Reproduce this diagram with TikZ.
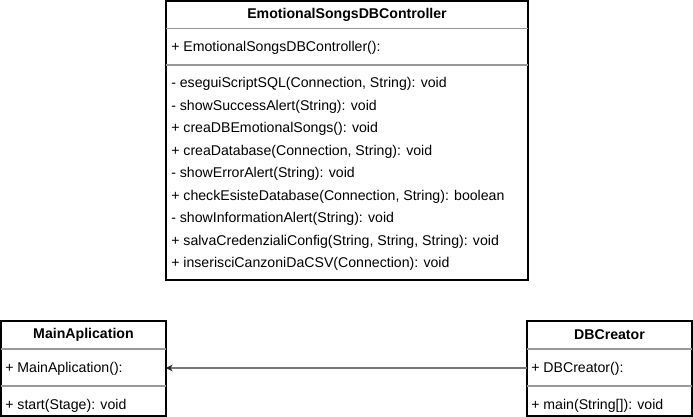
\documentclass[tikz,border=0pt]{standalone}
\usepackage{fontspec}
\setmainfont{Liberation Sans}
\usetikzlibrary{arrows.meta}
\definecolor{divgray}{HTML}{999999}
\definecolor{arrgray}{HTML}{777777}
\begin{document}
\begin{tikzpicture}[x=0.75pt,y=-0.75pt,
  boxline/.style={draw=black,line width=0.85pt},
  divline/.style={draw=divgray,line width=0.8pt},
  ttl/.style={font=\fontsize{10.6}{12}\selectfont\bfseries,inner sep=0pt},
  mem/.style={font=\fontsize{10.6}{12}\selectfont,anchor=west,inner sep=0pt},
  conn/.style={draw=arrgray,line width=0.85pt,-{Stealth[length=5pt,width=5pt,color=black!85]}}]
\useasboundingbox (0,0) rectangle (693,417);
% top class
\draw[boxline,fill=white] (166,1) rectangle (528,280);
\draw[divline] (166,28.5) -- (528,28.5);
\draw[divline] (166,65) -- (528,65);
\node[ttl] (ct) at (347,15) {EmotionalSongsDBController};
\node[mem] (c0) at (171,47.5) {+ EmotionalSongsDBController():};
\node[mem] (c1) at (171,84) {- eseguiScriptSQL(Connection, String): void};
\node[mem] (c2) at (171,106.5) {- showSuccessAlert(String): void};
\node[mem] (c3) at (171,129) {+ creaDBEmotionalSongs(): void};
\node[mem] (c4) at (171,151.5) {+ creaDatabase(Connection, String): void};
\node[mem] (c5) at (171,174) {- showErrorAlert(String): void};
\node[mem] (c6) at (171,196.5) {+ checkEsisteDatabase(Connection, String): boolean};
\node[mem] (c7) at (171,219) {- showInformationAlert(String): void};
\node[mem] (c8) at (171,241.5) {+ salvaCredenzialiConfig(String, String, String): void};
\node[mem] (c9) at (171,264) {+ inserisciCanzoniDaCSV(Connection): void};
% MainAplication
\draw[boxline,fill=white] (1,321) rectangle (166,416);
\draw[divline] (1,349) -- (166,349);
\draw[divline] (1,386) -- (166,386);
\node[ttl] (mt) at (83.5,335) {MainAplication};
\node[mem] (m0) at (5,368.5) {+ MainAplication():};
\node[mem] (m1) at (5,405.5) {+ start(Stage): void};
\coordinate (mr) at (166,368);
% DBCreator
\draw[boxline,fill=white] (527,321) rectangle (692,416);
\draw[divline] (527,349) -- (692,349);
\draw[divline] (527,386) -- (692,386);
\node[ttl] (dt) at (609.5,335) {DBCreator};
\node[mem] (d0) at (531,368.5) {+ DBCreator():};
\node[mem] (d1) at (531,405.5) {+ main(String[]): void};
\coordinate (dl) at (527,368);
\draw[conn] (dl) -- (mr);
\end{tikzpicture}
\end{document}
